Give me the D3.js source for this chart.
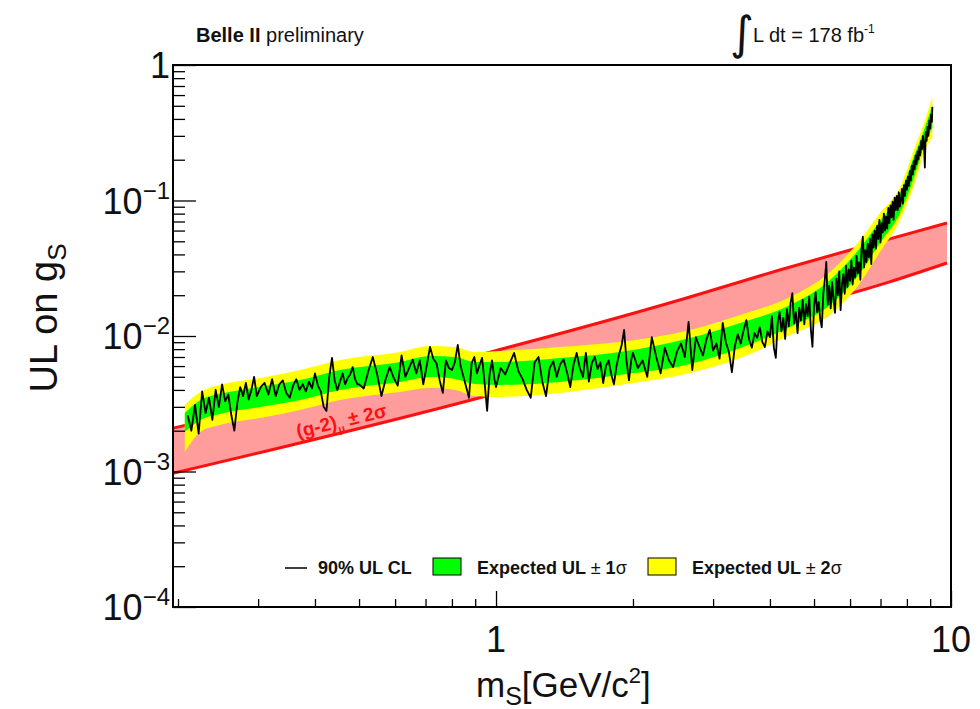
<!DOCTYPE html>
<html>
<head>
<meta charset="utf-8">
<script src="https://cdn.jsdelivr.net/npm/d3@7"></script>
<style>
  body { margin: 0; background: #fff; }
  svg { display: block; font-family: "Liberation Sans", Arial, Helvetica, sans-serif; }
</style>
</head>
<body>
<div id="chart"></div>
<script>
// expected limit bands (mass in GeV/c^2)
const bandMass = [0.207, 0.224, 0.247, 0.303, 0.371, 0.454, 0.615, 0.716, 0.813, 0.899, 1.02, 1.38, 1.87, 2.67, 3.44, 4.43, 5.42, 6.31, 6.98, 7.73, 8.33, 8.77, 9.10];
const exp2Hi = [0.00310, 0.00386, 0.00435, 0.00490, 0.00561, 0.00665, 0.00762, 0.00844, 0.00830, 0.00762, 0.00775, 0.00830, 0.00903, 0.01107, 0.0143, 0.0194, 0.0297, 0.0511, 0.0809, 0.126, 0.248, 0.393, 0.580];
const exp1Hi = [0.00270, 0.00337, 0.00373, 0.00420, 0.00473, 0.00561, 0.00643, 0.00712, 0.00700, 0.00643, 0.00643, 0.00688, 0.00762, 0.00966, 0.01247, 0.0169, 0.0259, 0.0446, 0.0706, 0.1117, 0.220, 0.349, 0.507];
const exp1Lo = [0.00196, 0.00240, 0.00266, 0.00299, 0.00337, 0.00400, 0.00458, 0.00498, 0.00482, 0.00442, 0.00435, 0.00458, 0.00516, 0.00621, 0.00815, 0.01165, 0.0169, 0.0292, 0.0486, 0.0809, 0.154, 0.266, 0.343];
const exp2Lo = [0.00139, 0.00196, 0.00220, 0.00248, 0.00284, 0.00337, 0.00386, 0.00413, 0.00400, 0.00361, 0.00355, 0.00380, 0.00435, 0.00533, 0.00688, 0.01017, 0.0143, 0.0246, 0.0417, 0.0718, 0.135, 0.236, 0.294];

// observed 90% CL upper limit
const scanMass = [
  0.210, 0.214, 0.218, 0.222, 0.226, 0.230, 0.234, 0.238, 0.242, 0.246, 0.250, 0.254, 0.258, 0.262, 0.266, 0.270, 0.274, 0.278, 0.282, 0.286, 0.290, 0.294, 0.298,
  0.304, 0.310, 0.316, 0.322, 0.328, 0.334, 0.340, 0.346, 0.352, 0.358, 0.364, 0.370, 0.376, 0.382, 0.388, 0.394, 0.400, 0.406, 0.412, 0.418, 0.424, 0.430, 0.436, 0.442, 0.448, 0.454, 0.460, 0.466, 0.472, 0.478, 0.484, 0.490, 0.496,
  0.500, 0.512, 0.524, 0.536, 0.548, 0.560, 0.572, 0.584, 0.596, 0.608, 0.620, 0.632, 0.644, 0.656, 0.668, 0.680, 0.692, 0.704, 0.716, 0.728, 0.740, 0.752, 0.764, 0.776, 0.788, 0.800, 0.812, 0.824, 0.836, 0.848, 0.860, 0.872, 0.884, 0.896, 0.908, 0.920, 0.932, 0.944, 0.956, 0.968, 0.980, 0.992,
  1.000, 1.024, 1.048, 1.072, 1.096, 1.120, 1.144, 1.168, 1.192, 1.216, 1.240, 1.264, 1.288, 1.312, 1.336, 1.360, 1.384, 1.408, 1.432, 1.456, 1.480, 1.504, 1.528, 1.552, 1.576, 1.600, 1.624, 1.648, 1.672, 1.696, 1.720, 1.744, 1.768, 1.792, 1.816, 1.840, 1.864, 1.888, 1.912, 1.936, 1.960, 1.984,
  2.00, 2.05, 2.10, 2.15, 2.20, 2.25, 2.30, 2.35, 2.40, 2.45, 2.50, 2.55, 2.60, 2.65, 2.70, 2.75, 2.80, 2.85, 2.90, 2.95, 3.00, 3.05, 3.10, 3.15, 3.20, 3.25, 3.30, 3.35, 3.40, 3.45, 3.50, 3.55, 3.60, 3.65, 3.70, 3.75, 3.80, 3.85, 3.90, 3.95,
  4.00, 4.04, 4.08, 4.12, 4.16, 4.20, 4.24, 4.28, 4.32, 4.36,
  4.40, 4.44, 4.48, 4.52, 4.56, 4.60, 4.64, 4.68, 4.72, 4.76,
  4.80, 4.84, 4.88, 4.92, 4.96, 5.00, 5.04, 5.08, 5.12, 5.16,
  5.20, 5.24, 5.28, 5.32, 5.36, 5.40, 5.44, 5.48, 5.52, 5.56,
  5.60, 5.64, 5.68, 5.72, 5.76, 5.80, 5.84, 5.88, 5.92, 5.96,
  6.00, 6.04, 6.08, 6.12, 6.16, 6.20, 6.24, 6.28, 6.32, 6.36,
  6.40, 6.44, 6.48, 6.52, 6.56, 6.60, 6.64, 6.68, 6.72, 6.76,
  6.80, 6.84, 6.88, 6.92, 6.96, 7.00, 7.04, 7.08, 7.12, 7.16,
  7.20, 7.24, 7.28, 7.32, 7.36, 7.40, 7.44, 7.48, 7.52, 7.56,
  7.60, 7.64, 7.68, 7.72, 7.76, 7.80, 7.84, 7.88, 7.92, 7.96,
  8.00, 8.04, 8.08, 8.12, 8.16, 8.20, 8.24, 8.28, 8.32, 8.36,
  8.40, 8.44, 8.48, 8.52, 8.56, 8.60, 8.64, 8.68, 8.72, 8.76,
  8.80, 8.84, 8.88, 8.92, 8.96, 9.00, 9.04, 9.08, 9.10
];
const obsUL = [
  0.0026, 0.0020, 0.0031, 0.0019, 0.0039, 0.0027, 0.0035, 0.0024, 0.0040, 0.0030, 0.0044, 0.0033, 0.0037, 0.0026, 0.0020, 0.0032, 0.0042, 0.0036, 0.0045, 0.0034, 0.0040, 0.0050, 0.0036,
  0.0042, 0.0045, 0.0037, 0.0048, 0.0036, 0.0044, 0.0047, 0.0038, 0.0035, 0.0043, 0.0048, 0.0040, 0.0044, 0.0039, 0.0046, 0.0041, 0.0053, 0.0043, 0.0039, 0.0030, 0.0028, 0.0050, 0.0069, 0.0047, 0.0040, 0.0046, 0.0053, 0.0044, 0.0049, 0.0052, 0.0059, 0.0048, 0.0044,
  0.0044, 0.0041, 0.0055, 0.0070, 0.0052, 0.0036, 0.0048, 0.0059, 0.0049, 0.0043, 0.0072, 0.0050, 0.0058, 0.0067, 0.0053, 0.0066, 0.0044, 0.0060, 0.0083, 0.0068, 0.0063, 0.0047, 0.0038, 0.0066, 0.0058, 0.0056, 0.0064, 0.0086, 0.0060, 0.0050, 0.0042, 0.0035, 0.0063, 0.0070, 0.0053, 0.0061, 0.0069, 0.0045, 0.0028, 0.0052, 0.0066, 0.0048,
  0.0042, 0.0058, 0.0052, 0.0063, 0.0075, 0.0055, 0.0048, 0.0040, 0.0035, 0.0064, 0.0070, 0.0046, 0.0036, 0.0058, 0.0065, 0.0050, 0.0062, 0.0067, 0.0054, 0.0042, 0.0061, 0.0075, 0.0058, 0.0050, 0.0075, 0.0046, 0.0063, 0.0070, 0.0057, 0.0064, 0.0045, 0.0060, 0.0066, 0.0052, 0.0044, 0.0060, 0.0073, 0.0085, 0.0111, 0.0065, 0.0047, 0.0068,
  0.0075, 0.0058, 0.0066, 0.0050, 0.0098, 0.0070, 0.0053, 0.0082, 0.0066, 0.0059, 0.0077, 0.0088, 0.0070, 0.0127, 0.0056, 0.0098, 0.0083, 0.0072, 0.0094, 0.0111, 0.0078, 0.0088, 0.0068, 0.0125, 0.0090, 0.0076, 0.0054, 0.0085, 0.0103, 0.0088, 0.0110, 0.0131, 0.0094, 0.0082, 0.0105, 0.0097, 0.0116, 0.0090, 0.0083, 0.0108,
  0.0098, 0.0140, 0.0082, 0.0069, 0.0125, 0.0150, 0.0108, 0.0136, 0.0095, 0.0158,
  0.0118, 0.0175, 0.0207, 0.0124, 0.0150, 0.0105, 0.0162, 0.0130, 0.0185, 0.0122,
  0.0172, 0.0140, 0.0195, 0.0112, 0.0083, 0.0165, 0.0210, 0.0150, 0.0178, 0.0132,
  0.0116, 0.0205, 0.0260, 0.0352, 0.0170, 0.0235, 0.0160, 0.0250, 0.0185, 0.0148,
  0.0265, 0.0200, 0.0300, 0.0155, 0.0240, 0.0285, 0.0205, 0.0330, 0.0230, 0.0310,
  0.0255, 0.0360, 0.0240, 0.0320, 0.0270, 0.0390, 0.0290, 0.0350, 0.0260, 0.0440,
  0.0540, 0.0320, 0.0430, 0.0350, 0.0480, 0.0380, 0.0520, 0.0340, 0.0560, 0.0450,
  0.0600, 0.0440, 0.0650, 0.0520, 0.0720, 0.0490, 0.0680, 0.0580, 0.0800, 0.0600,
  0.0760, 0.0620, 0.0880, 0.0680, 0.0920, 0.0750, 0.0980, 0.0720, 0.1050, 0.0850,
  0.1080, 0.0850, 0.1150, 0.0900, 0.1000, 0.1220, 0.0950, 0.1300, 0.1080, 0.1400,
  0.1200, 0.1500, 0.1280, 0.1650, 0.1400, 0.1800, 0.1550, 0.1950, 0.1700, 0.2150,
  0.1850, 0.2300, 0.2000, 0.2500, 0.2150, 0.2750, 0.2400, 0.3000, 0.2600, 0.1750,
  0.3200, 0.2750, 0.3500, 0.3000, 0.3900, 0.3400, 0.4300, 0.3800, 0.4900
];

// (g-2)_mu +-2 sigma band
const g2Mass = [0.195, 0.97, 2.6, 4.2, 7.3, 9.8];
const g2Hi = [0.00209, 0.0076, 0.0189, 0.0307, 0.0519, 0.0682];
const g2Lo = [0.00097, 0.00367, 0.00934, 0.01468, 0.0250, 0.0346];

const yTickVals = [1e-4, 1e-3, 1e-2, 1e-1, 1];
const yTickExp = ["\u22124", "\u22123", "\u22122", "\u22121", ""];
const xTickVals = [1, 10];
const xTickText = ["1", "10"];

const width = 980, height = 709;
const plot = { left: 173, right: 951, top: 65, bottom: 607 };

const svg = d3.select("#chart").append("svg")
  .attr("width", width).attr("height", height);
svg.append("rect").attr("width", width).attr("height", height).attr("fill", "#fff");

const x = d3.scaleLog().domain([0.195, 10]).range([plot.left, plot.right]);
const y = d3.scaleLog().domain([1e-4, 1]).range([plot.bottom, plot.top]);

// (g-2) band
const g2 = g2Mass.map((m, i) => ({ m, lo: g2Lo[i], hi: g2Hi[i] }));
svg.append("path").datum(g2)
  .attr("d", d3.area().x(d => x(d.m)).y0(d => y(d.lo)).y1(d => y(d.hi)).curve(d3.curveMonotoneX))
  .attr("fill", "#ff9c9c");
["lo", "hi"].forEach(k => {
  svg.append("path").datum(g2)
    .attr("d", d3.line().x(d => x(d.m)).y(d => y(d[k])).curve(d3.curveMonotoneX))
    .attr("fill", "none").attr("stroke", "#ff1010").attr("stroke-width", 3);
});

// expected bands
const band = bandMass.map((m, i) => ({ m, lo2: exp2Lo[i], lo1: exp1Lo[i], hi1: exp1Hi[i], hi2: exp2Hi[i] }));
svg.append("path").datum(band)
  .attr("d", d3.area().x(d => x(d.m)).y0(d => y(d.lo2)).y1(d => y(d.hi2)).curve(d3.curveMonotoneX))
  .attr("fill", "#ffff00");
svg.append("path").datum(band)
  .attr("d", d3.area().x(d => x(d.m)).y0(d => y(d.lo1)).y1(d => y(d.hi1)).curve(d3.curveMonotoneX))
  .attr("fill", "#00ff00");

// observed
const obs = scanMass.map((m, i) => ({ m, v: obsUL[i] }));
svg.append("path").datum(obs)
  .attr("d", d3.line().x(d => x(d.m)).y(d => y(d.v)))
  .attr("fill", "none").attr("stroke", "#000").attr("stroke-width", 1.8)
  .attr("stroke-linejoin", "round");

// (g-2) label
const g2lab = svg.append("text")
  .attr("transform", "translate(298,438) rotate(-13.5)")
  .attr("fill", "#ff1010").attr("font-weight", "bold").attr("font-size", 19);
g2lab.append("tspan").text("(g-2)");
g2lab.append("tspan").attr("font-size", 11).attr("dy", 5).text("\u03bc");
g2lab.append("tspan").attr("dy", -5).text(" \u00b1 2\u03c3");

// axes: ticks inside the frame, ROOT style
const minorY = y.ticks().filter(v => !yTickVals.includes(v));
const minorX = x.ticks().filter(v => !xTickVals.includes(v));

function styleAxis(g) {
  g.select(".domain").remove();
  g.selectAll(".tick line").attr("stroke", "#000").attr("stroke-width", 1.3);
}
svg.append("g").attr("transform", `translate(${plot.left},0)`)
  .call(d3.axisLeft(y).tickValues(minorY).tickSize(-12).tickFormat(""))
  .call(styleAxis);
svg.append("g").attr("transform", `translate(${plot.left},0)`)
  .call(d3.axisLeft(y).tickValues(yTickVals).tickSize(-23).tickFormat(""))
  .call(styleAxis);
svg.append("g").attr("transform", `translate(0,${plot.bottom})`)
  .call(d3.axisBottom(x).tickValues(minorX).tickSize(-8).tickFormat(""))
  .call(styleAxis);
svg.append("g").attr("transform", `translate(0,${plot.bottom})`)
  .call(d3.axisBottom(x).tickValues(xTickVals).tickSize(-16).tickFormat(""))
  .call(styleAxis);

svg.append("rect")
  .attr("x", plot.left).attr("y", plot.top)
  .attr("width", plot.right - plot.left).attr("height", plot.bottom - plot.top)
  .attr("fill", "none").attr("stroke", "#000").attr("stroke-width", 2);

// tick labels
yTickVals.forEach((v, i) => {
  const t = svg.append("text").attr("x", 170).attr("y", y(v) + 13)
    .attr("text-anchor", "end").attr("font-size", 36).attr("fill", "#111");
  if (yTickExp[i] === "") { t.text("1"); return; }
  t.append("tspan").text("10");
  t.append("tspan").attr("font-size", 24).attr("dy", -15).text(yTickExp[i]);
});
xTickVals.forEach((v, i) => {
  svg.append("text").attr("x", x(v)).attr("y", 652)
    .attr("text-anchor", "middle").attr("font-size", 36).attr("fill", "#111")
    .text(xTickText[i]);
});

// axis titles
const xt = svg.append("text").attr("x", 476).attr("y", 697).attr("font-size", 35).attr("fill", "#111");
xt.append("tspan").text("m");
xt.append("tspan").attr("font-size", 25).attr("dy", 8).text("S");
xt.append("tspan").attr("dy", -8).text("[GeV/c");
xt.append("tspan").attr("font-size", 22).attr("dy", -14).text("2");
xt.append("tspan").attr("dy", 14).text("]");

const yt = svg.append("text").attr("transform", "translate(57,318) rotate(-90)")
  .attr("text-anchor", "middle").attr("font-size", 38).attr("fill", "#111");
yt.append("tspan").text("UL on g");
yt.append("tspan").attr("font-size", 26).attr("dy", 9).text("S");

// header texts
const hd = svg.append("text").attr("x", 196).attr("y", 42).attr("font-size", 20).attr("fill", "#111");
hd.append("tspan").attr("font-weight", "bold").text("Belle II");
hd.append("tspan").text(" preliminary");

svg.append("text").attr("x", 730).attr("y", 49).attr("font-size", 46)
  .attr("font-family", "DejaVu Sans").attr("fill", "#111").text("\u222b");
const lum = svg.append("text").attr("x", 753).attr("y", 42).attr("font-size", 20).attr("fill", "#111");
lum.append("tspan").text("L dt = 178 fb");
lum.append("tspan").attr("font-size", 12).attr("dy", -9).text("-1");

// legend
const lg = svg.append("g").attr("font-size", 18).attr("font-weight", "bold").attr("fill", "#111");
lg.append("line").attr("x1", 285).attr("x2", 307).attr("y1", 568).attr("y2", 568)
  .attr("stroke", "#000").attr("stroke-width", 1.5);
lg.append("text").attr("x", 318).attr("y", 574).text("90% UL CL");
lg.append("rect").attr("x", 433).attr("y", 558).attr("width", 28).attr("height", 17)
  .attr("fill", "#00ff00").attr("stroke", "#000").attr("stroke-width", 1);
const l1 = lg.append("text").attr("x", 477).attr("y", 574);
l1.append("tspan").text("Expected UL ");
l1.append("tspan").attr("font-weight", "normal").text("\u00b1 ");
l1.append("tspan").text("1");
l1.append("tspan").attr("font-weight", "normal").text("\u03c3");
lg.append("rect").attr("x", 648).attr("y", 558).attr("width", 28).attr("height", 17)
  .attr("fill", "#ffff00").attr("stroke", "#000").attr("stroke-width", 1);
const l2 = lg.append("text").attr("x", 692).attr("y", 574);
l2.append("tspan").text("Expected UL ");
l2.append("tspan").attr("font-weight", "normal").text("\u00b1 ");
l2.append("tspan").text("2");
l2.append("tspan").attr("font-weight", "normal").text("\u03c3");
</script>
</body>
</html>
